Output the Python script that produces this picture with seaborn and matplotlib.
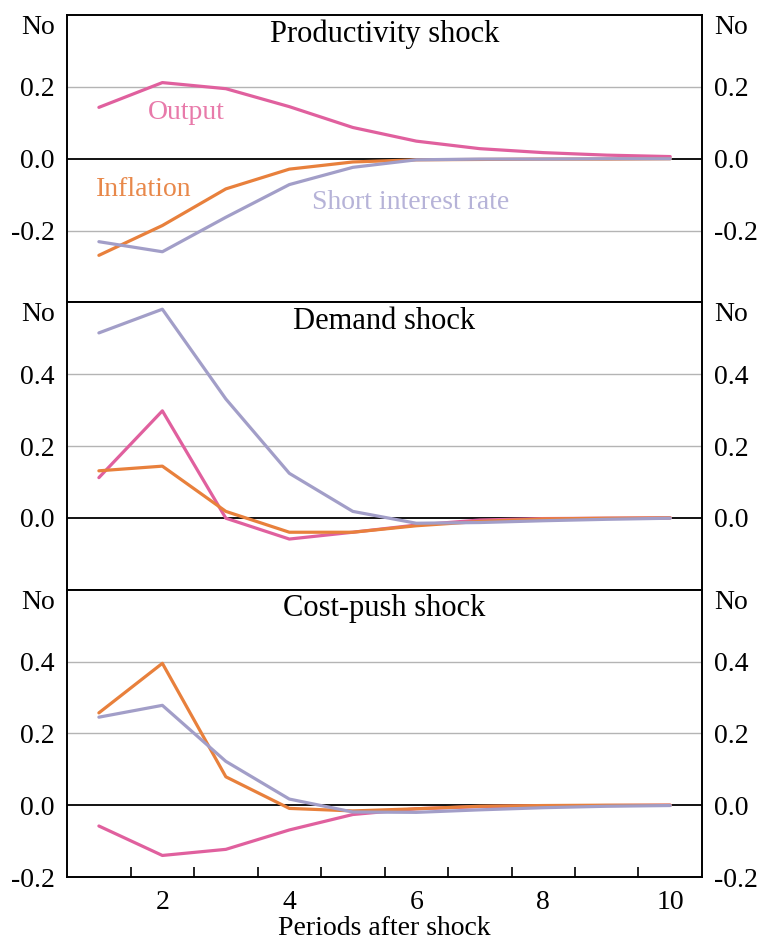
import numpy as np
import pandas as pd
import matplotlib
matplotlib.use("Agg")
import matplotlib.pyplot as plt
import seaborn as sns

# periods after shock
periods = [1, 2, 3, 4, 5, 6, 7, 8, 9, 10]

# productivity shock
prod_output = [0.143, 0.212, 0.195, 0.145, 0.087, 0.049, 0.028, 0.017, 0.010, 0.006]
prod_inflation = [-0.269, -0.186, -0.084, -0.029, -0.009, -0.003, -0.002, -0.001, -0.001, 0.0]
prod_rate = [-0.231, -0.259, -0.163, -0.072, -0.024, -0.003, -0.001, -0.001, 0.0, 0.0]

# demand shock
dem_output = [0.112, 0.298, -0.001, -0.059, -0.040, -0.020, -0.006, -0.002, -0.001, 0.0]
dem_inflation = [0.131, 0.144, 0.018, -0.040, -0.040, -0.022, -0.010, -0.003, -0.001, 0.0]
dem_rate = [0.515, 0.581, 0.331, 0.124, 0.018, -0.015, -0.013, -0.008, -0.004, -0.001]

# cost-push shock
cp_output = [-0.058, -0.140, -0.123, -0.069, -0.026, -0.010, -0.004, -0.002, -0.001, 0.0]
cp_inflation = [0.257, 0.395, 0.079, -0.009, -0.016, -0.010, -0.003, -0.001, 0.0, 0.0]
cp_rate = [0.245, 0.278, 0.122, 0.017, -0.019, -0.020, -0.013, -0.007, -0.003, -0.001]

series_names = ["Output", "Inflation", "Short interest rate"]
line_colors = {"Output": "#e0609e", "Inflation": "#e8803c", "Short interest rate": "#a29ec8"}
text_colors = {"Output": "#e87aaa", "Inflation": "#e8884a", "Short interest rate": "#b6b3d8"}

panels = [
    ("Productivity shock", [prod_output, prod_inflation, prod_rate], (-0.4, 0.4), [-0.2, 0.0, 0.2]),
    ("Demand shock", [dem_output, dem_inflation, dem_rate], (-0.2, 0.6), [0.0, 0.2, 0.4]),
    ("Cost-push shock", [cp_output, cp_inflation, cp_rate], (-0.2, 0.6), [-0.2, 0.0, 0.2, 0.4]),
]

sns.set_style("white")
plt.rcParams["font.family"] = ["Liberation Serif", "DejaVu Serif"]
plt.rcParams["text.color"] = "black"
plt.rcParams["xtick.color"] = "black"
plt.rcParams["ytick.color"] = "black"
plt.rcParams["axes.labelcolor"] = "black"

fig, axes = plt.subplots(3, 1, figsize=(7.63, 9.42), dpi=100, sharex=True)
fig.subplots_adjust(left=0.088, right=0.920, top=0.984, bottom=0.069, hspace=0)

for ax, (title, vals, ylim, yticks) in zip(axes, panels):
    df = pd.DataFrame({
        "period": periods * 3,
        "value": vals[0] + vals[1] + vals[2],
        "series": np.repeat(series_names, len(periods)),
    })
    # grid lines first so lines sit on top
    for t in yticks:
        if t == 0:
            ax.axhline(0, color="black", lw=1.3, zorder=1)
        else:
            ax.axhline(t, color="#b4b4b4", lw=1.0, zorder=1)
    sns.lineplot(data=df, x="period", y="value", hue="series", hue_order=series_names,
                 palette=line_colors, lw=2.3, legend=False, ax=ax, zorder=3)
    ax.set_xlim(0.5, 10.5)
    ax.set_ylim(*ylim)
    ax.set_yticks(yticks)
    ax.set_yticklabels([f"{t:.1f}" for t in yticks])
    ax.tick_params(axis="y", length=0, labelsize=20, pad=9,
                   labelleft=True, labelright=True)
    ax.set_ylabel("")
    ax.set_xlabel("")
    for s in ax.spines.values():
        s.set_color("black")
        s.set_linewidth(1.4)
    ax.annotate(title, xy=(0.5, 1), xycoords="axes fraction", xytext=(0, -13.5),
                textcoords="offset points", ha="center", va="center", fontsize=22)
    ax.annotate("No", xy=(0, 1), xycoords="axes fraction", xytext=(-9, -9),
                textcoords="offset points", ha="right", va="center", fontsize=20)
    ax.annotate("No", xy=(1, 1), xycoords="axes fraction", xytext=(9, -9),
                textcoords="offset points", ha="left", va="center", fontsize=20)

# series labels in the top panel
ax0 = axes[0]
ax0.text(2.37, 0.128, "Output", color=text_colors["Output"], fontsize=20, ha="center", va="center")
ax0.text(1.71, -0.085, "Inflation", color=text_colors["Inflation"], fontsize=20, ha="center", va="center")
ax0.text(5.91, -0.121, "Short interest rate", color=text_colors["Short interest rate"],
         fontsize=20, ha="center", va="center")

# x axis on the bottom panel: labels at even periods, small ticks between periods
ax_b = axes[-1]
ax_b.set_xticks([2, 4, 6, 8, 10])
ax_b.set_xticks(np.arange(1.5, 10, 1.0), minor=True)
ax_b.tick_params(axis="x", which="major", length=0, labelsize=20, pad=9)
ax_b.tick_params(axis="x", which="minor", length=7, width=1.2, direction="in",
                 color="black", bottom=True)
ax_b.set_xlabel("Periods after shock", fontsize=20, labelpad=1)
for ax in axes[:-1]:
    ax.tick_params(axis="x", which="both", length=0)

fig.savefig("out.png", dpi=100)
